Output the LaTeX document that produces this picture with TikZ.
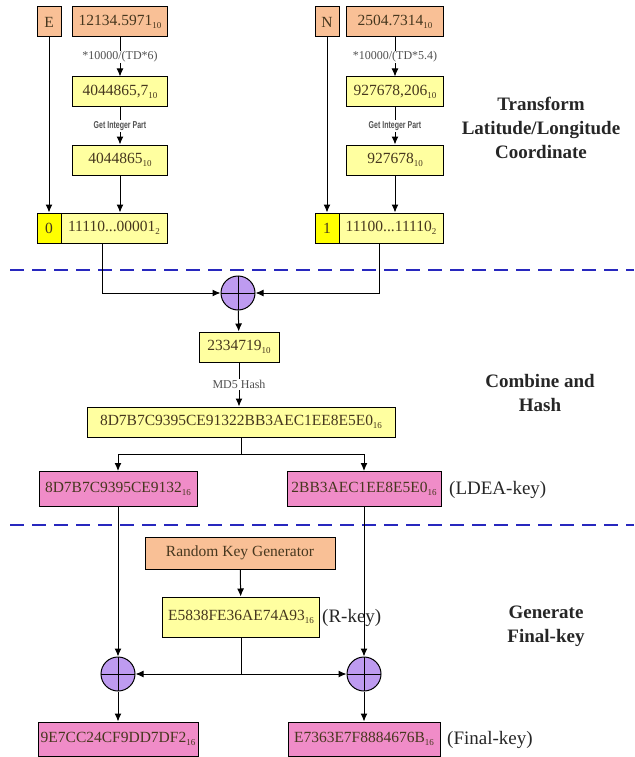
\documentclass[tikz,border=0pt]{standalone}
\usepackage{fontspec}
\setmainfont{Liberation Serif}
\setsansfont{Liberation Sans}
\usetikzlibrary{arrows.meta,calc}
\definecolor{orng}{RGB}{249,192,150}
\definecolor{ylw}{RGB}{255,255,160}
\definecolor{bylw}{RGB}{255,255,0}
\definecolor{pnk}{RGB}{240,140,200}
\definecolor{purp}{RGB}{190,155,240}
\definecolor{dashblue}{RGB}{40,40,190}
\definecolor{ink}{RGB}{70,55,30}
\definecolor{lblgray}{RGB}{80,80,80}
\newcommand\sbt[1]{\raisebox{-0.5ex}{\fontsize{9}{9}\selectfont #1}}
\begin{document}
\begin{tikzpicture}[x=1pt,y=-1pt,
  box/.style={draw=black, line width=1pt, inner sep=0pt, text=ink,
              font=\fontsize{15.5}{15.5}\selectfont, minimum height=30pt},
  org/.style={box, fill=orng},
  yel/.style={box, fill=ylw},
  byel/.style={box, fill=bylw},
  pink/.style={box, fill=pnk, minimum height=35pt},
  arr/.style={-{Latex[length=8pt,width=7pt]}, line width=1pt},
  ln/.style={line width=1pt},
  lbl/.style={fill=white, inner sep=1pt, text=lblgray, font=\fontsize{12}{12}\selectfont},
  gip/.style={fill=white, inner sep=1pt, text=lblgray, font=\sffamily\bfseries\fontsize{10}{10}\selectfont},
  xor/.style={circle, draw=black, line width=1pt, fill=purp, minimum size=34pt, inner sep=0pt,
     path picture={\draw[line width=1pt] (path picture bounding box.north) -- (path picture bounding box.south)
        (path picture bounding box.west) -- (path picture bounding box.east);}},
  tag/.style={anchor=west, inner sep=0pt, text=black!85, font=\fontsize{19}{19}\selectfont},
  title/.style={align=center, inner sep=0pt, text=black!85, font=\bfseries\fontsize{19}{24}\selectfont},
  sep/.style={draw=dashblue, line width=1.3pt, dash pattern=on 14pt off 8pt}
]
\useasboundingbox (0,0) rectangle (634,757);

% ---------- top left (E) ----------
\node[org, minimum width=24pt] (E) at (49,22) {E};
\node[org, minimum width=95pt] (V1) at (120,22) {12134.5971\sbt{10}};
\node[yel, minimum width=95pt] (B2) at (120,92) {4044865,7\sbt{10}};
\node[yel, minimum width=95pt] (B3) at (120,160) {4044865\sbt{10}};
\node[byel, minimum width=24pt] (Z0) at (49,228) {0};
\node[yel, minimum width=106pt] (ZL) at (114,228) {11110...00001\sbt{2}};

% ---------- top right (N) ----------
\node[org, minimum width=24pt] (N) at (327,22) {N};
\node[org, minimum width=97pt] (V2) at (395,22) {2504.7314\sbt{10}};
\node[yel, minimum width=97pt] (C2) at (395,92) {927678,206\sbt{10}};
\node[yel, minimum width=97pt] (C3) at (395,160) {927678\sbt{10}};
\node[byel, minimum width=24pt] (Z1) at (327,228) {1};
\node[yel, minimum width=104pt] (ZR) at (391,228) {11100...11110\sbt{2}};

\draw[arr] (E) -- (Z0);
\draw[arr] (V1) -- node[lbl] {*10000/(TD*6)} (B2);
\draw[arr] (B2) -- node[gip] {\scalebox{0.7}[1]{Get Integer Part}} (B3);
\draw[arr] (B3.south) -- (B3.south |- ZL.north);

\draw[arr] (N) -- (Z1);
\draw[arr] (V2) -- node[lbl] {*10000/(TD*5.4)} (C2);
\draw[arr] (C2) -- node[gip] {\scalebox{0.7}[1]{Get Integer Part}} (C3);
\draw[arr] (C3.south) -- (C3.south |- ZR.north);

\node[title] (T1) at (541,128) {Transform\\Latitude/Longitude\\Coordinate};

% ---------- separator 1 ----------
\draw[sep] (10,270) -- (634,270);

% ---------- combine ----------
\node[xor] (X1) at (238,293) {};
\coordinate (cl) at ($(Z0.south west)!0.5!(ZL.south east)$);
\coordinate (cr) at ($(Z1.south west)!0.5!(ZR.south east)$);
\draw[arr] (cl) |- (X1);
\draw[arr] (cr) |- (X1);

\node[yel, minimum width=80pt] (H) at (239,347) {2334719\sbt{10}};
\draw[arr] (X1) -- (H);
\node[yel, minimum width=308pt] (LB) at (241,422) {8D7B7C9395CE91322BB3AEC1EE8E5E0\sbt{16}};
\draw[arr] (H.south) -- node[lbl] {MD5 Hash} (H.south |- LB.north);

\node[pink, minimum width=158pt] (P1) at (118,489) {8D7B7C9395CE9132\sbt{16}};
\node[pink, minimum width=154pt] (P2) at (364,489) {2BB3AEC1EE8E5E0\sbt{16}};
\node[tag] (LK) at (449,490) {(LDEA-key)};
\coordinate (br) at (241,454);
\draw[ln] (LB.south) -- (br);
\draw[arr] (br) -| (P1.north);
\draw[arr] (br) -| (P2.north);

\node[title] (T2) at (540,393) {Combine and\\Hash};

% ---------- separator 2 ----------
\draw[sep] (10,525) -- (634,525);

% ---------- final key ----------
\node[org, minimum width=190pt, minimum height=32pt] (RKG) at (240,553) {Random Key Generator};
\node[yel, minimum width=157pt, minimum height=40pt] (RK) at (241,617) {E5838FE36AE74A93\sbt{16}};
\node[tag] (RL) at (322,618) {(R-key)};
\draw[arr] (RKG) -- (RK);

\node[xor] (XL) at (118,674) {};
\node[xor] (XR) at (364,674) {};
\coordinate (jn) at (241,674);
\draw[ln] (RK.south) -- (jn);
\draw[arr] (jn) -- (XL);
\draw[arr] (jn) -- (XR);
\draw[arr] (P1) -- (XL);
\draw[arr] (P2) -- (XR);

\node[pink, minimum width=160pt, minimum height=34pt] (Q1) at (118,739) {9E7CC24CF9DD7DF2\sbt{16}};
\node[pink, minimum width=152pt, minimum height=34pt] (Q2) at (364,739) {E7363E7F8884676B\sbt{16}};
\node[tag] (FK) at (447,740) {(Final-key)};
\draw[arr] (XL) -- (Q1);
\draw[arr] (XR) -- (Q2);

\node[title] (T3) at (546,626) {Generate\\Final-key};
\end{tikzpicture}
\end{document}
